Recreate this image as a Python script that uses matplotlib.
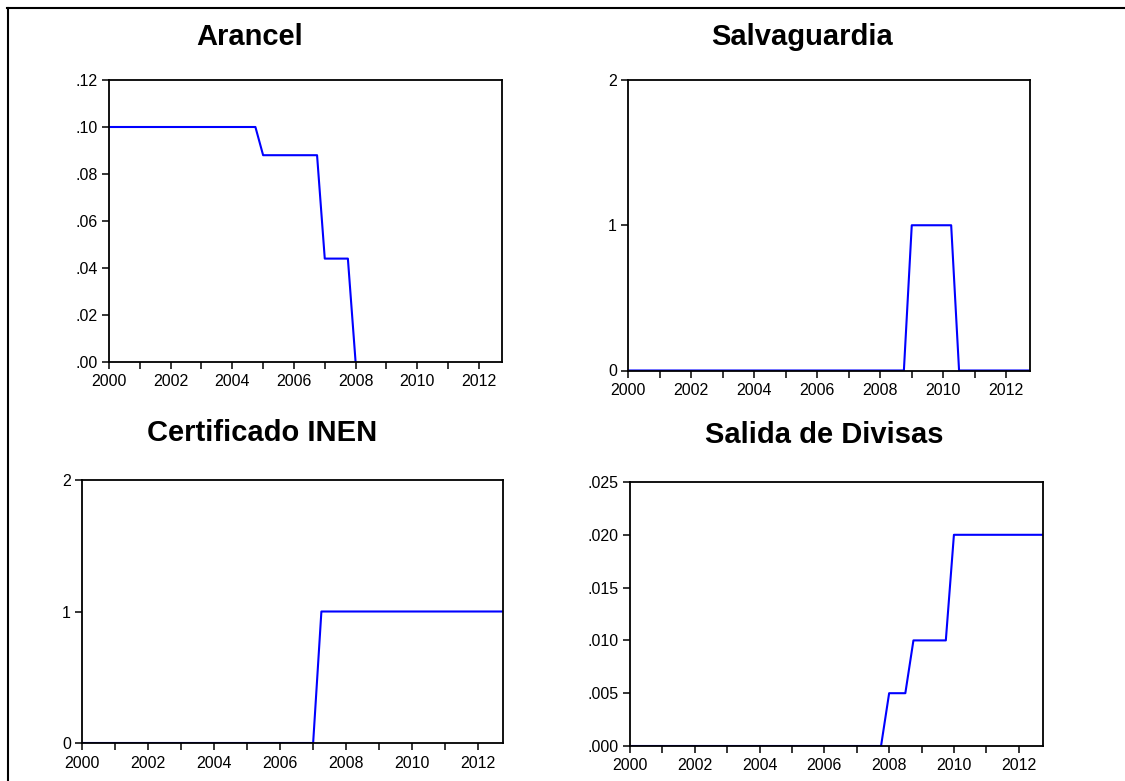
import numpy as np
from matplotlib import pyplot as plt
from matplotlib.lines import Line2D

plt.rcParams['font.family'] = ['Liberation Sans', 'DejaVu Sans']

# quarterly observations 2000Q1 .. 2012Q4
years = list(range(2000, 2013))
quarters = [y + q / 4 for y in years for q in range(4)]

nan = float('nan')
arancel = [0.10] * 20 + [0.088] * 8 + [0.044] * 4 + [0.0] + [nan] * 19
salvaguardia = [0] * 36 + [1] * 6 + [0] * 10
certificado = [0] * 29 + [1] * 23
salida = [0.0] * 32 + [0.005] * 3 + [0.010] * 5 + [0.020] * 12

year_ticks = years
year_labels = [str(y) if y % 2 == 0 else '' for y in years]

W, H = 1125, 781

panels = [
    # title, series, yticks, ylabels, axes box in px (left, top, right, bottom), title center px
    ("Arancel", arancel, [0, .02, .04, .06, .08, .10, .12],
     ['.00', '.02', '.04', '.06', '.08', '.10', '.12'], (109, 80, 502, 362), (250, 37)),
    ("Salvaguardia", salvaguardia, [0, 1, 2], ['0', '1', '2'], (628, 80, 1030, 370.5), (802, 37)),
    ("Certificado INEN", certificado, [0, 1, 2], ['0', '1', '2'], (82, 480, 503, 743), (262, 433)),
    ("Salida de Divisas", salida, [0, .005, .010, .015, .020, .025],
     ['.000', '.005', '.010', '.015', '.020', '.025'], (630, 482, 1043, 746), (824, 435)),
]

fig = plt.figure(figsize=(W / 100, H / 100), dpi=100)

for title, series, yt, yl, (l, t, r, b), (tx, ty) in panels:
    ax = fig.add_axes([l / W, 1 - b / H, (r - l) / W, (b - t) / H])
    ax.plot(quarters, series, color='#0000FF', linewidth=1.5)
    ax.set_xlim(2000, 2012.75)
    ax.set_ylim(yt[0], yt[-1])
    ax.set_xticks(year_ticks)
    ax.set_xticklabels(year_labels)
    ax.set_yticks(yt)
    ax.set_yticklabels(yl)
    ax.tick_params(direction='out', length=5, width=1.1, labelsize=11.5, pad=3)
    ax.tick_params(axis='x', pad=4)
    for s in ax.spines.values():
        s.set_linewidth(1.3)
    fig.text(tx / W, 1 - ty / H, title, ha='center', va='center',
             fontsize=21, fontweight='bold')

# outer frame (top and left edges only)
fig.add_artist(Line2D([7 / W, 1], [1 - 7.5 / H, 1 - 7.5 / H], color='black', linewidth=1.5))
fig.add_artist(Line2D([7.5 / W, 7.5 / W], [0, 1 - 7.5 / H], color='black', linewidth=1.5))

plt.savefig('out.png', dpi=100)
